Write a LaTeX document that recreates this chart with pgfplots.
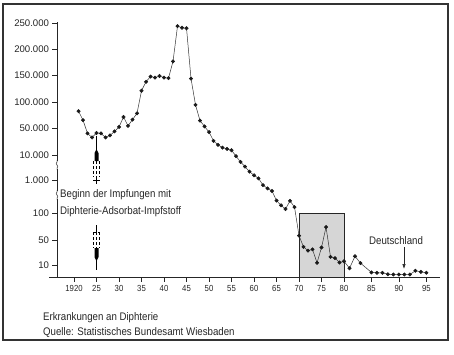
\documentclass[border=0pt]{standalone}
\usepackage{fontspec}
\setmainfont{Liberation Sans}[FakeStretch=0.88]
\newfontfamily\tickfont{Liberation Sans}
\usepackage{pgfplots}
\pgfplotsset{compat=1.18}
\usetikzlibrary{arrows.meta}

\pgfplotstableread{
year cases
1921 82000
1922 65000
1923 42000
1924 36000
1925 42600
1926 42000
1927 36000
1928 39000
1929 45000
1930 52000
1931 71000
1932 54000
1933 66000
1934 78000
1935 121000
1936 138000
1937 148000
1938 146000
1939 149000
1940 146000
1941 145000
1942 177000
1943 244000
1944 241000
1945 240000
1946 144000
1947 94000
1948 64000
1949 53000
1950 44000
1951 31000
1952 25000
1953 21000
1954 19000
1955 17000
1956 9600
1957 7500
1958 5800
1959 4000
1960 2700
1961 1600
1962 860
1963 770
1964 700
1965 440
1966 310
1967 210
1968 430
1969 260
1970 58
1971 39
1972 33
1973 35
1974 13.5
1975 38
1976 74
1977 23
1978 21
1979 14
1980 16
1981 7.3
1982 24
1983 13
1985 3.8
1986 3.5
1987 3.5
1988 2.3
1989 2.1
1990 2.1
1991 2.1
1992 2.1
1993 5.2
1994 4.3
1995 3.6
}\diphterie

\begin{document}
\begin{tikzpicture}
\path[use as bounding box, fill=white] (0pt,0pt) rectangle (454pt,-354pt);
\begin{axis}[
  at={(57pt,-277pt)}, anchor=south west,
  scale only axis, width=383pt, height=255pt,
  xmin=1916.22, xmax=2001.33, ymin=0, ymax=255,
  axis x line*=bottom, axis y line*=left,
  axis line style={line width=0.6pt, black!85},
  tick align=outside, major tick length=4.5pt,
  every tick/.style={black!85, line width=0.5pt},
  xtick={1920,1925,1930,1935,1940,1945,1950,1955,1960,1965,1970,1975,1980,1986.1,1992.2,1998.3},
  xticklabels={1920,25,30,35,40,45,50,55,60,65,70,75,80,85,90,95},
  ytick={12,37,64,97,122,149,175.25,201.5,227.75,254},
  yticklabels={10,50,100,1.000,10.000,50.000,100.000,150.000,200.000,250.000},
  x tick label style={font=\fontsize{8.8}{10}\selectfont, black!85},
  y tick label style={font=\tickfont\fontsize{9.6}{11}\selectfont, black!85},
  x filter/.expression={x>1980 ? 1980+(x-1980)*1.22 : x},
  y filter/.expression={y<=10 ? 1.2*y : (y<=50 ? 12+(y-10)*25/40 : (y<=100 ? 37+(y-50)*27/50 : (y<=1000 ? 64+(y-100)*33/900 : (y<=10000 ? 97+(y-1000)*25/9000 : (y<=50000 ? 122+(y-10000)*27/40000 : 149+(y-50000)*105/200000)))))},
  clip=false,
]
\addplot[fill=black!16, draw=black!85, line width=0.6pt] coordinates {(1970,0) (1970,100) (1980,100) (1980,0)};
\addplot[black!80, line width=0.5pt, mark=*, mark size=1.7pt, mark options={fill=black!90, draw=black!90}] table[x=year, y=cases] {\diphterie};
\end{axis}
% x axis stub left of y axis
\draw[line width=0.6pt, black!85] (49pt,-277pt) -- (57pt,-277pt);
% axis breaks
\foreach \yb in {165,195}{
  \fill[white] (54pt,-\yb pt+4pt) rectangle (60pt,-\yb pt-4pt);
  \draw[line width=0.5pt, black!85] (57pt,-\yb pt+5pt) -- (57pt,-\yb pt+3pt) .. controls (54pt,-\yb pt+1pt) and (60pt,-\yb pt-1pt) .. (57pt,-\yb pt-3pt) -- (57pt,-\yb pt-5pt);
}
% upper syringe
\draw[line width=0.6pt] (96.5pt,-136pt) -- (96.5pt,-150pt);
\fill (94.5pt,-161pt) -- (94.5pt,-153pt) -- (96.5pt,-149pt) -- (98.5pt,-153pt) -- (98.5pt,-161pt) -- cycle;
\draw[densely dashed, line width=0.4pt] (93.5pt,-161pt) -- (93.5pt,-177pt) (99.5pt,-161pt) -- (99.5pt,-177pt) (96.5pt,-161pt) -- (96.5pt,-177pt);
\draw[line width=0.6pt] (96.5pt,-177pt) -- (96.5pt,-184pt) (93pt,-180pt) -- (100pt,-180pt);
% lower syringe
\draw[line width=0.6pt] (96.5pt,-225pt) -- (96.5pt,-232pt);
\draw[densely dashed, line width=0.4pt] (93pt,-232pt) -- (100pt,-232pt) (93.5pt,-232pt) -- (93.5pt,-248pt) (99.5pt,-232pt) -- (99.5pt,-248pt) (96.5pt,-232pt) -- (96.5pt,-248pt);
\fill (94.5pt,-248pt) -- (98.5pt,-248pt) -- (98.5pt,-257pt) -- (96.5pt,-261pt) -- (94.5pt,-257pt) -- cycle;
\draw[line width=0.6pt] (96.5pt,-259pt) -- (96.5pt,-270pt);
% texts
\begin{scope}[every node/.style={anchor=west, inner sep=0pt, font=\fontsize{11}{13}\selectfont, text=black!85}]
\node at (60pt,-195pt) {Beginn der Impfungen mit};
\node at (60pt,-211.5pt) {Diphterie-Adsorbat-Impfstoff};
\node at (43pt,-318pt) {Erkrankungen an Diphterie};
\node at (43pt,-333pt) {Quelle: Statistisches Bundesamt Wiesbaden};
\node at (369pt,-240.7pt) {Deutschland};
\end{scope}
\draw[-{Latex[length=5pt,width=3.5pt]}, line width=0.6pt, black!85] (404pt,-247pt) -- (404pt,-269pt);
% frame
\draw[line width=1.6pt, black!80] (3pt,-4pt) rectangle (448pt,-340pt);
\end{tikzpicture}
\end{document}
